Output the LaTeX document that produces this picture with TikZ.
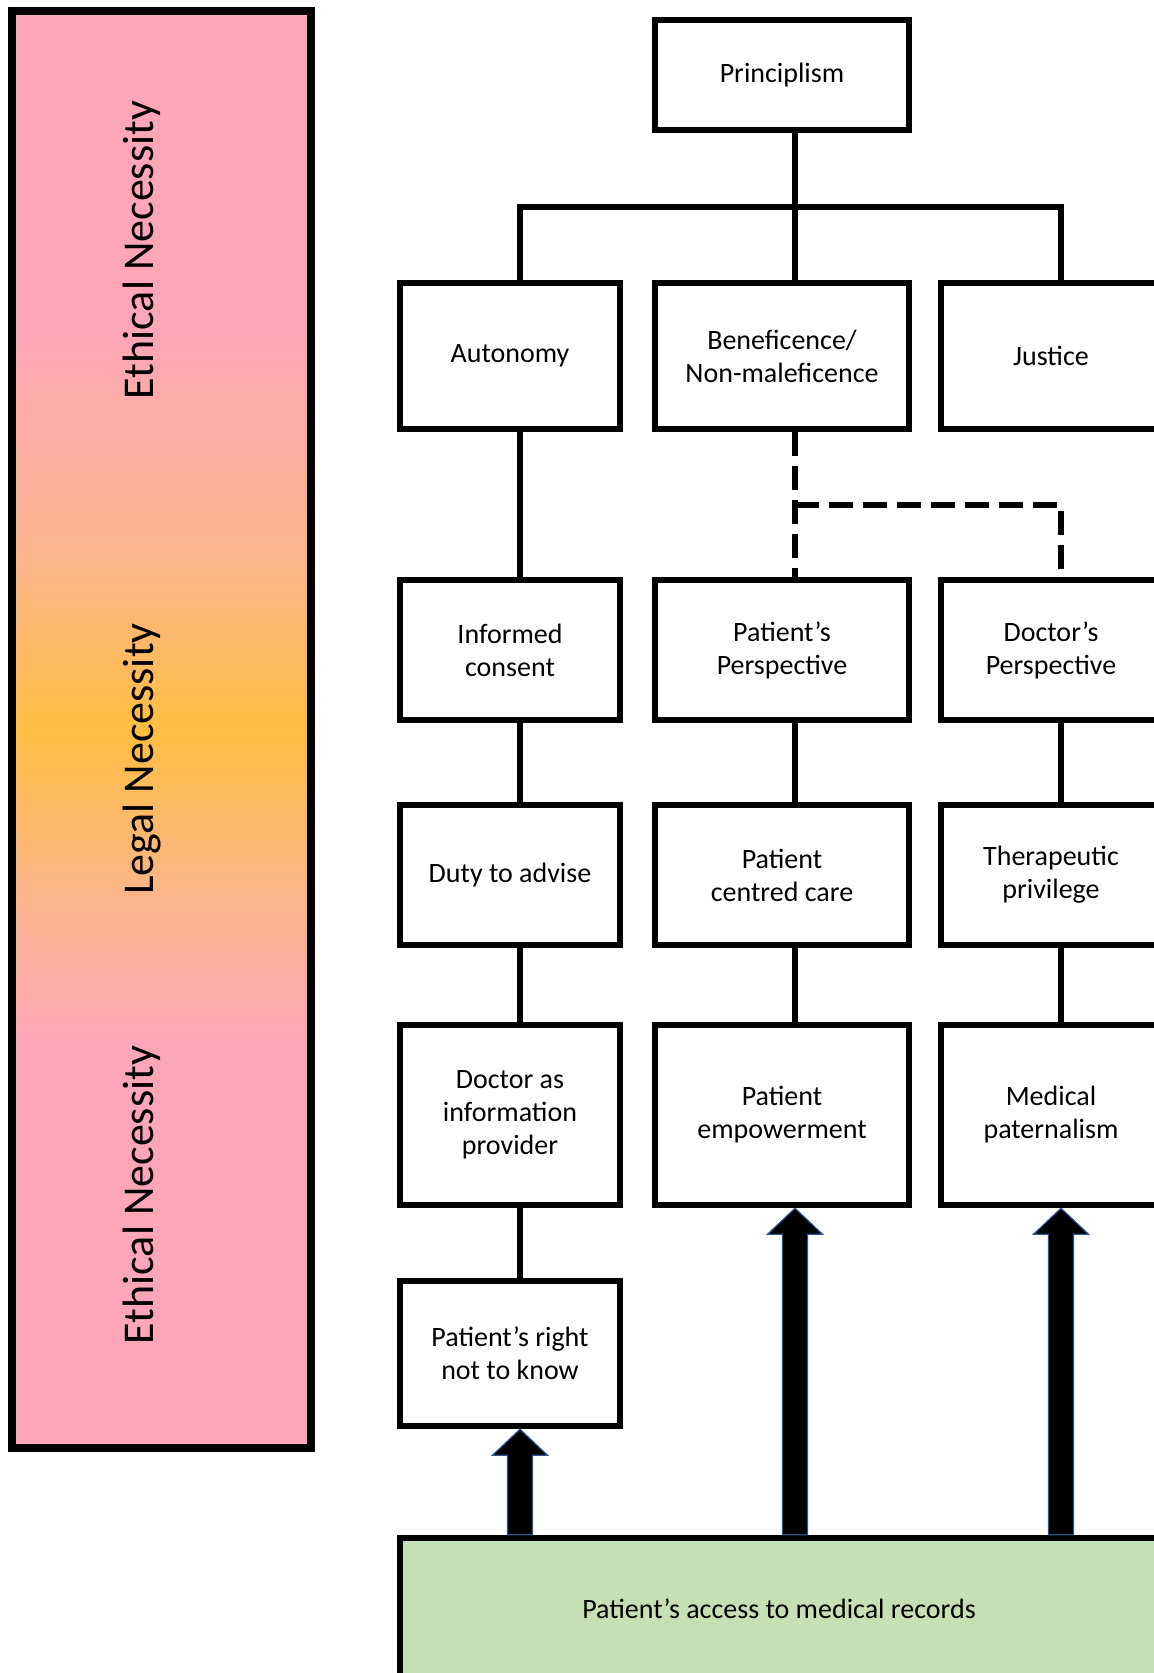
\documentclass[tikz,border=0pt]{standalone}
\usepackage{fontspec}
\setmainfont{Carlito}
\usetikzlibrary{calc}

\definecolor{nepink}{RGB}{253,166,184}
\definecolor{nepeach}{RGB}{252,180,140}
\definecolor{negold}{RGB}{255,190,66}
\definecolor{recgreen}{RGB}{197,224,180}
\definecolor{arrowblue}{RGB}{47,82,143}

\pgfdeclareverticalshading{necessity}{100bp}{color(0bp)=(nepink); color(39bp)=(nepink); color(44bp)=(nepeach); color(50bp)=(negold); color(56bp)=(nepeach); color(64bp)=(nepink); color(100bp)=(nepink)}

\begin{document}
\begin{tikzpicture}[
    x=0.5pt, y=-0.5pt,
    box/.style={rectangle, draw, line width=3.25pt, fill=white, align=center, font=\fontsize{14pt}{16.5pt}\selectfont, inner sep=2pt},
    narrow/.style={box, minimum width=110pt},
    wide/.style={box, minimum width=127pt},
    link/.style={line width=3.25pt},
    dashlink/.style={line width=3.25pt, dash pattern=on 12pt off 5pt},
    bigarr/.style={fill=black, draw=arrowblue, line width=0.6pt},
    sidelbl/.style={rotate=90, font=\fontsize{22pt}{26pt}\selectfont},
]
\useasboundingbox (0,0) rectangle (1154,1673);
\clip (0,0) rectangle (1154,1673);

% ========== LEFT BAR ==========
\node[draw, line width=4pt, shade, shading=necessity, minimum width=149.5pt, minimum height=718.5pt, inner sep=0pt] (bar) at (161.5,729.5) {};
\node[sidelbl] (eth1) at (142,250) {Ethical Necessity};
\node[sidelbl] (legal) at (142,759) {Legal Necessity};
\node[sidelbl] (eth2) at (142,1195) {Ethical Necessity};

% ========== TOP: Principlism ==========
\node[wide, minimum height=55pt] (princ) at (782,75) {Principlism};

% ========== ROW 1 ==========
\node[narrow, minimum height=73pt] (autonomy) at (510,356) {Autonomy};
\node[wide, minimum height=73pt] (benef) at (782,356) {Beneficence/\\Non-maleficence};
\node[narrow, minimum height=73pt] (justice) at (1051,356) {Justice};

% ========== ROW 2 ==========
\node[narrow, minimum height=70pt] (consent) at (510,650) {Informed\\consent};
\node[wide, minimum height=70pt] (patpersp) at (782,650) {Patient’s\\Perspective};
\node[narrow, minimum height=70pt] (docpersp) at (1051,650) {Doctor’s\\Perspective};

% ========== ROW 3 ==========
\node[narrow, minimum height=70pt] (duty) at (510,875) {Duty to advise};
\node[wide, minimum height=70pt] (centred) at (782,875) {Patient\\centred care};
\node[narrow, minimum height=70pt] (therap) at (1051,875) {Therapeutic\\privilege};

% ========== ROW 4 ==========
\node[narrow, minimum height=90pt] (provider) at (510,1115) {Doctor as\\information\\provider};
\node[wide, minimum height=90pt] (empower) at (782,1115) {Patient\\empowerment};
\node[narrow, minimum height=90pt] (patern) at (1051,1115) {Medical\\paternalism};

% ========== ROW 5 ==========
\node[narrow, minimum height=72.5pt] (rightnot) at (510,1353.5) {Patient’s right\\not to know};

% ========== BOTTOM: records ==========
\node[box, fill=recgreen, minimum width=379pt, minimum height=71pt] (records) at (779,1609) {Patient’s access to medical records};

% ========== CONNECTIONS ==========
\coordinate (c1) at (520,0);
\coordinate (c2) at (795,0);
\coordinate (c3) at (1061,0);
\coordinate (fork) at (795,207);
\coordinate (dashfork) at (795,505);

% --- tree under Principlism ---
\draw[link] (princ.south -| c2) -- (benef.north -| c2);
\draw[link] (autonomy.north -| c1) |- (fork) -| (justice.north -| c3);

% --- left column (solid) ---
\draw[link] (autonomy.south -| c1) -- (consent.north -| c1);
\draw[link] (consent.south -| c1) -- (duty.north -| c1);
\draw[link] (duty.south -| c1) -- (provider.north -| c1);
\draw[link] (provider.south -| c1) -- (rightnot.north -| c1);

% --- beneficence split (dashed) ---
\draw[dashlink] (benef.south -| c2) -- (patpersp.north -| c2);
\draw[dashlink] (dashfork) -| (docpersp.north -| c3);

% --- middle and right columns (solid) ---
\draw[link] (patpersp.south -| c2) -- (centred.north -| c2);
\draw[link] (centred.south -| c2) -- (empower.north -| c2);
\draw[link] (docpersp.south -| c3) -- (therap.north -| c3);
\draw[link] (therap.south -| c3) -- (patern.north -| c3);

% --- block arrows from records ---
\filldraw[bigarr] let \p1=(records.north -| c1), \p2=(rightnot.south -| c1) in
    (\x1-6.25pt,\y1) -- (\x1-6.25pt,\y2-13pt) -- (\x1-13.75pt,\y2-13pt) -- (\x2,\y2)
    -- (\x1+13.75pt,\y2-13pt) -- (\x1+6.25pt,\y2-13pt) -- (\x1+6.25pt,\y1) -- cycle;
\filldraw[bigarr] let \p1=(records.north -| c2), \p2=(empower.south -| c2) in
    (\x1-6.25pt,\y1) -- (\x1-6.25pt,\y2-13pt) -- (\x1-13.75pt,\y2-13pt) -- (\x2,\y2)
    -- (\x1+13.75pt,\y2-13pt) -- (\x1+6.25pt,\y2-13pt) -- (\x1+6.25pt,\y1) -- cycle;
\filldraw[bigarr] let \p1=(records.north -| c3), \p2=(patern.south -| c3) in
    (\x1-6.25pt,\y1) -- (\x1-6.25pt,\y2-13pt) -- (\x1-13.75pt,\y2-13pt) -- (\x2,\y2)
    -- (\x1+13.75pt,\y2-13pt) -- (\x1+6.25pt,\y2-13pt) -- (\x1+6.25pt,\y1) -- cycle;

\end{tikzpicture}
\end{document}
